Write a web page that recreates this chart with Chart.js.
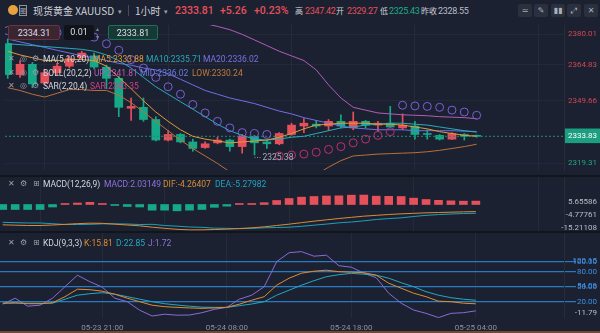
<!DOCTYPE html>
<html>
<head>
<meta charset="utf-8">
<title>XAUUSD 1H</title>
<script src="https://cdn.jsdelivr.net/npm/chart.js@4.4.1/dist/chart.umd.min.js"></script>
<style>
body { margin:0; background:#11151c; }
#wrap { position:relative; width:600px; height:333px; overflow:hidden; background:#11151c; font-family: Roboto, "Noto Sans CJK SC", sans-serif; }
#wrap canvas { position:absolute; left:0; background:#1b2131; }
#top { position:absolute; left:0; top:0; width:600px; height:20px; background:#1b2131; }
.a { position:absolute; white-space:nowrap; }
.h { top:5px; font-size:10px; line-height:12px; color:#cfd2d9; font-family:"Noto Sans CJK SC", Roboto, sans-serif; }
.hl { top:5px; font-size:8px; line-height:12px; color:#cfd2d9; font-family:"Noto Sans CJK SC", sans-serif; }
.hv { top:5px; font-size:9px; line-height:12px; letter-spacing:-0.3px; font-family:Roboto, sans-serif; }
.hn { top:4px; font-family:Roboto, sans-serif; font-size:10.5px; line-height:13px; font-weight:500; }
.red { color:#e5505b; } .grn { color:#1faa88; }
.btn { top:4px; width:14px; height:13px; background:#2a303e; border-radius:2px; color:#aab0bb; font-size:8px; line-height:13px; text-align:center; font-family:"DejaVu Sans", sans-serif; }
.box { top:25px; height:15px; line-height:15px; font-size:9px; text-align:center; color:#dcdfe5; box-sizing:border-box; border-radius:2px; }
.lg { font-size:8.5px; line-height:10px; color:#d3d6dd; }
.ic { font-size:8px; line-height:10px; color:#9aa0aa; font-family:"DejaVu Sans", sans-serif; }
</style>
</head>
<body>
<div id="wrap">
  <div id="top"></div>
  <canvas id="main" width="600" height="155" style="top:20px"></canvas>
  <canvas id="macd" width="600" height="54" style="top:177px"></canvas>
  <canvas id="kdj" width="600" height="100" style="top:233px"></canvas>
  <div class="a" style="left:0;top:331px;width:600px;height:2px;background:#6e4a35"></div>

  <!-- header -->
  <div class="a" style="left:8px;top:5px;width:10px;height:10px;border-radius:50%;background:#e6a23c"></div>
  <div class="a" style="left:19px;top:5px;width:6px;height:9px;border:1px solid #8d939e;font-size:6px;line-height:9px;color:#aab0bb;text-align:center">图</div>
  <div class="a h" style="left:33px">现货黄金 XAUUSD</div>
  <div class="a h" style="left:118px;font-size:7px;color:#9aa0aa">▾</div>
  <div class="a" style="left:128px;top:5px;width:1px;height:11px;background:#454b58"></div>
  <div class="a h" style="left:135px">1小时</div>
  <div class="a h" style="left:164px;font-size:7px;color:#9aa0aa">▾</div>
  <div class="a hn red" style="left:175px">2333.81</div>
  <div class="a hn red" style="left:220px">+5.26</div>
  <div class="a hn red" style="left:254px">+0.23%</div>
  <div class="a hl" style="left:295px">高</div>
  <div class="a hv red" style="left:305px">2347.42</div>
  <div class="a hl" style="left:336px">开</div>
  <div class="a hv red" style="left:347px">2329.27</div>
  <div class="a hl" style="left:380px">低</div>
  <div class="a hv grn" style="left:389px">2325.43</div>
  <div class="a hl" style="left:421px">昨收</div>
  <div class="a hv" style="left:438px;color:#b9bdc6">2328.55</div>
  <div class="a btn" style="left:518px">≃</div>
  <div class="a btn" style="left:534px">✎</div>
  <div class="a btn" style="left:551px">▮▮</div>
  <div class="a btn" style="left:567px">⤢</div>
  <div class="a btn" style="left:584px">✕</div>

  <!-- order boxes -->
  <div class="a box" style="left:8px;width:52px;background:#3a2530;border:1px solid #6a3340">2334.31</div>
  <div class="a box" style="left:64px;width:30px;background:#10131a">0.01</div>
  <div class="a ic" style="left:96px;top:24px;font-size:6px;color:#7d8390">▴</div>
  <div class="a ic" style="left:96px;top:32px;font-size:6px;color:#7d8390">▾</div>
  <div class="a box" style="left:108px;width:50px;background:#173936;border:1px solid #1e6e5e">2333.81</div>

  <!-- main legends -->
  <div class="a ic" style="left:8px;top:54px">✕</div><div class="a ic" style="left:20px;top:54px">◎</div><div class="a ic" style="left:32px;top:54px">⚙</div>
  <div class="a lg" style="left:43px;top:54px">MA(5,10,20)</div>
  <div class="a lg" style="left:93px;top:54px;color:#e09a3a">MA5:2333.88</div>
  <div class="a lg" style="left:146px;top:54px;color:#2aa9b9">MA10:2335.71</div>
  <div class="a lg" style="left:203px;top:54px;color:#7c70e4">MA20:2336.02</div>

  <div class="a ic" style="left:8px;top:68px">✕</div><div class="a ic" style="left:20px;top:68px">◎</div><div class="a ic" style="left:32px;top:68px">⚙</div>
  <div class="a lg" style="left:43px;top:68px">BOLL(20,2,2)</div>
  <div class="a lg" style="left:94px;top:68px;color:#c157b8">UP:2341.81</div>
  <div class="a lg" style="left:140px;top:68px;color:#6f79df">MID:2336.02</div>
  <div class="a lg" style="left:192px;top:68px;color:#c47a3a">LOW:2330.24</div>

  <div class="a ic" style="left:8px;top:81px">✕</div><div class="a ic" style="left:20px;top:81px">◎</div><div class="a ic" style="left:32px;top:81px">⚙</div>
  <div class="a lg" style="left:43px;top:81px">SAR(2,20,4)</div>
  <div class="a lg" style="left:90px;top:81px;color:#d83c8c">SAR:2343.35</div>

  <!-- MACD legend -->
  <div class="a ic" style="left:8px;top:179px">✕</div><div class="a ic" style="left:20px;top:179px">⚙</div><div class="a ic" style="left:33px;top:179px">⊞</div>
  <div class="a lg" style="left:43px;top:179px">MACD(12,26,9)</div>
  <div class="a lg" style="left:104px;top:179px;color:#8f72dc">MACD:2.03149</div>
  <div class="a lg" style="left:163px;top:179px;color:#d88c35">DIF:-4.26407</div>
  <div class="a lg" style="left:215px;top:179px;color:#22a3c0">DEA:-5.27982</div>

  <!-- KDJ legend -->
  <div class="a ic" style="left:8px;top:238px">✕</div><div class="a ic" style="left:20px;top:238px">⚙</div><div class="a ic" style="left:33px;top:238px">⊞</div>
  <div class="a lg" style="left:43px;top:238px">KDJ(9,3,3)</div>
  <div class="a lg" style="left:84px;top:238px;color:#de8c32">K:15.81</div>
  <div class="a lg" style="left:116px;top:238px;color:#22a9c0">D:22.85</div>
  <div class="a lg" style="left:148px;top:238px;color:#8f72dc">J:1.72</div>
</div>

<script>
// hourly candles, 05-23 13:00 .. 05-25 04:00
var opens  = [2375.77,2361.79,2366.45,2357.98,2362.64,2365.60,2369.42,2370.26,2365.18,2360.10,2346.53,2346.96,2341.45,2332.13,2334.67,2331.28,2328.74,2330.86,2332.13,2329.17,2333.83,2331.28,2330.44,2334.67,2338.49,2339.33,2338.49,2340.61,2337.64,2340.61,2338.91,2339.76,2337.64,2338.49,2335.10,2334.25,2332.55,2334.67,2334.04];
var highs  = [2377.89,2368.15,2367.30,2363.91,2366.88,2370.26,2372.38,2371.54,2366.03,2360.94,2351.20,2351.20,2342.72,2336.37,2335.10,2332.55,2331.28,2333.40,2332.55,2334.67,2334.25,2332.13,2335.52,2339.76,2341.88,2341.03,2341.45,2343.57,2344.84,2341.03,2340.61,2347.42,2343.99,2340.61,2336.79,2334.67,2335.52,2335.10,2334.46];
var lows   = [2360.10,2360.52,2355.86,2357.13,2361.79,2364.76,2368.57,2364.33,2355.43,2342.72,2341.03,2340.61,2331.71,2331.71,2330.86,2327.05,2328.32,2330.44,2327.05,2326.20,2325.38,2328.32,2330.01,2334.25,2335.52,2337.64,2336.37,2337.64,2336.79,2337.64,2336.37,2337.64,2336.79,2332.55,2332.55,2332.13,2332.34,2332.13,2333.40];
var closes = [2361.79,2366.45,2357.55,2362.64,2365.60,2368.99,2371.54,2365.18,2360.10,2346.96,2347.38,2341.45,2332.13,2334.67,2331.28,2328.32,2330.44,2332.13,2329.17,2333.83,2330.86,2330.44,2335.10,2338.91,2339.76,2338.49,2340.61,2338.49,2340.61,2338.91,2339.76,2338.06,2338.91,2334.67,2334.67,2332.55,2335.10,2333.83,2333.81];

var ma5  = [2372.38,2370.69,2369.42,2368.15,2368.15,2368.57,2368.57,2368.15,2365.60,2360.52,2355.43,2349.93,2344.84,2340.61,2336.79,2333.83,2332.55,2331.71,2330.86,2331.28,2331.71,2332.13,2333.40,2335.10,2337.21,2338.91,2339.33,2339.76,2339.76,2339.76,2339.33,2339.33,2338.91,2338.06,2337.21,2335.94,2335.10,2334.25,2333.88];
var ma10 = [2375.77,2375.35,2374.93,2374.50,2374.08,2373.65,2373.23,2372.38,2370.69,2368.15,2364.76,2360.52,2356.28,2352.89,2349.50,2346.11,2342.72,2339.33,2336.37,2334.25,2332.55,2332.13,2332.55,2333.40,2333.83,2335.10,2336.37,2337.64,2338.06,2338.91,2339.33,2339.76,2339.76,2339.33,2338.91,2338.06,2337.21,2336.37,2335.71];
var ma20 = [2377.89,2376.62,2375.35,2374.08,2372.81,2371.54,2370.26,2369.42,2368.15,2366.88,2366.03,2364.76,2363.91,2362.21,2359.67,2357.13,2354.59,2352.89,2351.20,2349.93,2348.66,2346.96,2345.27,2343.99,2342.30,2341.03,2339.76,2338.49,2337.64,2337.21,2336.79,2336.79,2336.79,2336.37,2336.37,2336.37,2336.37,2336.16,2336.02];
var bollUp  = [2401.19,2400.34,2399.50,2398.65,2397.80,2396.96,2396.11,2395.26,2394.42,2393.57,2392.72,2391.87,2391.03,2390.18,2389.33,2387.64,2384.90,2383.60,2382.13,2380.01,2377.47,2374.93,2372.38,2370.26,2368.15,2363.91,2357.13,2351.20,2346.96,2345.69,2344.42,2343.99,2343.57,2343.36,2343.15,2342.72,2342.51,2342.30,2341.81];
var bollLow = [2355.86,2354.59,2352.89,2351.62,2353.32,2355.01,2355.01,2354.59,2354.59,2352.47,2349.08,2344.84,2340.61,2336.37,2332.13,2328.32,2324.93,2321.54,2317.72,2315.61,2313.91,2312.64,2312.21,2312.21,2313.91,2316.45,2319.84,2322.81,2324.93,2325.35,2325.78,2325.99,2326.20,2326.41,2326.84,2327.47,2328.32,2329.17,2330.24];
var sar = [2381.70,2381.28,2381.28,2380.86,2380.86,2380.43,2380.01,2378.74,2375.77,2372.81,2368.57,2364.76,2360.52,2356.28,2352.89,2348.23,2344.42,2340.61,2337.64,2335.52,2335.10,2334.67,2324.93,2325.35,2325.78,2326.62,2327.89,2329.17,2330.86,2332.55,2334.25,2335.94,2347.90,2347.60,2347.38,2346.96,2345.69,2344.84,2343.35];
var lastPrice = 2333.83;

var macdHist = [-3.0,-3.0,-3.0,-3.0,-1.5,0.2,0.9,1.3,0.5,-0.5,-1.2,-1.5,-3.4,-3.4,-3.8,-3.4,-3.0,-1.7,-1.0,0.3,0.6,1.1,2.4,3.6,4.4,4.8,5.1,5.2,5.6,5.66,5.0,4.9,4.8,3.8,3.0,2.5,2.2,2.0,2.03149];
var dif = [-12.2,-12.4,-12.6,-12.6,-12.3,-11.9,-11.5,-11.2,-11.3,-11.8,-12.3,-12.8,-13.6,-14.3,-14.9,-15.21,-15.2,-15.0,-14.8,-14.4,-14.0,-13.4,-12.6,-11.8,-10.9,-10.0,-9.2,-8.4,-7.7,-7.0,-6.5,-6.0,-5.6,-5.3,-5.0,-4.8,-4.6,-4.4,-4.26407];
var dea = [-10.7,-10.9,-11.1,-11.1,-11.5,-12.0,-12.0,-11.9,-11.6,-11.6,-11.7,-12.0,-11.9,-12.6,-13.0,-13.5,-13.7,-14.2,-14.3,-14.5,-14.3,-13.95,-13.8,-13.6,-13.1,-12.4,-11.75,-11.0,-10.5,-9.8,-9.0,-8.45,-8.0,-7.2,-6.5,-6.05,-5.7,-5.4,-5.27982];

var kdjK = [17,18,16,16,18,30,45,44,41,35,27,20,13,10,8.7,7.5,6.7,7.5,8.7,15,23,30,53,67,77,81,83,80,79,78,73,57,47,37,30,21,20,17,15.81];
var kdjD = [17,17,17,17,17,25,33,36,38,35,30,25,20,16,13.4,11,9,8.7,8.7,12,15.4,20,33,43,53,62,70,74,76.7,75,73,67,58,50,40,33,28,25,22.85];
var kdjJ = [15,27,11,13,27,50,73,60,49,27,20,3,-8.6,-5,-7,-6.6,-2,4.7,8.7,25,33,50,100,118,120.15,111,113,92,89,77,68,37,17,3.4,-3.3,-11.79,-3.3,-2,1.72];

var timeTickIdx = [8, 18, 28, 38];
var timeLabels = ['05-23 21:00', '05-24 08:00', '05-24 18:00', '05-25 04:00'];

var priceTickLabels = ['2380.01', '2364.83', '2349.66', '2333.83', '2319.31'];
var priceTickAt = [2380.01, 2366.2, 2350.0, 2333.83, 2321.6];
var macdTickLabels = ['5.65586', '-4.77761', '-15.21108'];
var macdTickAt = [1.7, -6.3, -13.9];
var kdjTickLabels = ['120.15', '100.00', '80.00', '54.08', '50.00', '20.00', '-11.79'];
var kdjTickAt = [100.6, 100, 80, 50.6, 50, 20, -3.2];
var kdjLevelLine = [false, true, true, false, true, true, false];

var UP = '#e5505b', DN = '#16a987';
var X_MIN = -0.22, X_MAX = 45.08;

Chart.defaults.font.family = 'Roboto, "Noto Sans", sans-serif';
Chart.defaults.font.size = 8;
Chart.defaults.animation = false;
Chart.defaults.elements.point.radius = 0;
Chart.defaults.elements.line.borderWidth = 1;
Chart.defaults.elements.line.tension = 0;

function xy(arr) { return arr.map(function (v, i) { return { x: i, y: v }; }); }
function line(arr, color, order) {
  return { type: 'line', data: xy(arr), borderColor: color, fill: false, order: order };
}

function xAxis(showLabels) {
  return {
    type: 'linear', min: X_MIN, max: X_MAX, offset: false,
    grid: { color: '#252b39', drawTicks: false },
    border: { display: false },
    ticks: { display: showLabels, color: '#8a909c', padding: 5, maxRotation: 0, autoSkip: false,
      callback: function (v, i) { return timeLabels[i]; } },
    afterBuildTicks: function (s) { s.ticks = timeTickIdx.map(function (v) { return { value: v }; }); },
    afterFit: function (s) { s.height = showLabels ? 15 : 0; s.paddingLeft = 0; s.paddingRight = 0; }
  };
}

// right axis 33px wide; mirrored labels right-aligned at its right edge so long ones may run left
function yAxis(min, max, at, labels, extra) {
  var ax = {
    type: 'linear', position: 'right', min: min, max: max,
    border: { display: true, color: '#262c3a' },
    grid: { color: '#232938', drawTicks: false },
    ticks: { color: '#b9bdc6', mirror: true, crossAlign: 'near', padding: 33,
      callback: function (v, i) { return labels[i]; } },
    afterBuildTicks: function (s) { s.ticks = at.map(function (v) { return { value: v }; }); },
    afterFit: function (s) { s.width = 33; s.paddingTop = 0; s.paddingBottom = 0; }
  };
  return Object.assign(ax, extra || {});
}

function baseOptions(scales) {
  return {
    responsive: false, devicePixelRatio: 1, events: [],
    layout: { padding: { left: 0, top: 0, bottom: 0, right: 3 } },
    plugins: { legend: { display: false }, tooltip: { enabled: false } },
    scales: scales
  };
}

// lowest low marker "....2325.38"
var lowLabel = {
  id: 'lowLabel',
  afterDatasetsDraw: function (chart) {
    var k = 0;
    lows.forEach(function (v, i) { if (v < lows[k]) k = i; });
    var px = chart.scales.x.getPixelForValue(k), py = chart.scales.y.getPixelForValue(lows[k]) + 2.5;
    var c = chart.ctx;
    c.save();
    c.strokeStyle = '#8c919c'; c.setLineDash([1, 1.5]);
    c.beginPath(); c.moveTo(px, py); c.lineTo(px + 7, py); c.stroke();
    c.fillStyle = '#a5aab4'; c.font = '8.5px Roboto'; c.textBaseline = 'middle';
    c.fillText(lows[k].toFixed(2), px + 8, py);
    c.restore();
  }
};

var candleColors = closes.map(function (c, i) { return c >= opens[i] ? UP : DN; });
var bodies = opens.map(function (o, i) { return { x: i, y: [o, closes[i]] }; });
var wicks = lows.map(function (l, i) { return { x: i, y: [l, highs[i]] }; });
var sarColors = sar.map(function (v, i) { return v > closes[i] ? '#7b5fd6' : '#c22e73'; });

var priceTickColors = ['#cf4651', '#cf4651', '#cf4651', '#ffffff', '#22a382'];
new Chart(document.getElementById('main'), {
  type: 'line',
  data: { datasets: [
    { type: 'line', data: xy(sar), showLine: false, pointRadius: 4, pointBorderWidth: 1,
      pointBackgroundColor: 'rgba(0,0,0,0)', pointBorderColor: sarColors, order: 0 },
    line(ma5, '#e09a3a', 1),
    line(ma10, '#2aa9b9', 2),
    line(ma20, '#6f6fe4', 3),
    line(bollUp, '#b15cb8', 4),
    line(bollLow, '#b8703a', 5),
    { type: 'line', data: [{ x: X_MIN, y: lastPrice }, { x: X_MAX, y: lastPrice }], borderColor: '#1d8a74',
      borderDash: [2, 2], order: 6 },
    { type: 'bar', data: bodies, backgroundColor: candleColors, barThickness: 8, grouped: false, minBarLength: 1, order: 8 },
    { type: 'bar', data: wicks, backgroundColor: candleColors, barThickness: 1, grouped: false, order: 9 }
  ] },
  options: baseOptions({
    x: xAxis(false),
    y: yAxis(2318.57, 2384.25, priceTickAt, priceTickLabels, {
      grid: { drawTicks: false, color: function (c) { return c.index === 3 ? 'rgba(0,0,0,0)' : '#232938'; } },
      ticks: { mirror: true, crossAlign: 'near', padding: 33, showLabelBackdrop: true,
        backdropColor: function (c) { return c.index === 3 ? '#1c9e80' : 'rgba(0,0,0,0)'; },
        backdropPadding: { top: 3, bottom: 2, left: 3, right: 3 },
        color: function (c) { return priceTickColors[c.index]; },
        callback: function (v, i) { return priceTickLabels[i]; } }
    })
  }),
  plugins: [lowLabel]
});

new Chart(document.getElementById('macd'), {
  type: 'line',
  data: { datasets: [
    line(dif, '#d88c35', 0),
    line(dea, '#1f9fb8', 1),
    { type: 'bar', data: xy(macdHist), backgroundColor: macdHist.map(function (v) { return v >= 0 ? UP : DN; }),
      barThickness: 8, grouped: false, minBarLength: 1, order: 2 }
  ] },
  options: baseOptions({
    x: xAxis(false),
    y: yAxis(-15.9, 16.5, macdTickAt, macdTickLabels, {
      grid: { display: false }
    })
  })
});

new Chart(document.getElementById('kdj'), {
  type: 'line',
  data: { datasets: [
    line(kdjK, '#de8c32', 0),
    line(kdjD, '#22a9c0', 1),
    line(kdjJ, '#8a6ad8', 2)
  ] },
  options: baseOptions({
    x: xAxis(true),
    y: yAxis(-12.6, 157.4, kdjTickAt, kdjTickLabels, {
      grid: { drawTicks: true, tickLength: 12, lineWidth: 1.2,
        color: function (c) { return kdjLevelLine[c.index] ? '#2a7ac2' : 'rgba(0,0,0,0)'; } },
      ticks: { mirror: true, crossAlign: 'near', padding: 33,
        color: function (c) { return c.index === 6 ? '#b9bdc6' : '#3d8ee0'; },
        callback: function (v, i) { return kdjTickLabels[i]; } }
    })
  })
});
</script>
</body>
</html>
